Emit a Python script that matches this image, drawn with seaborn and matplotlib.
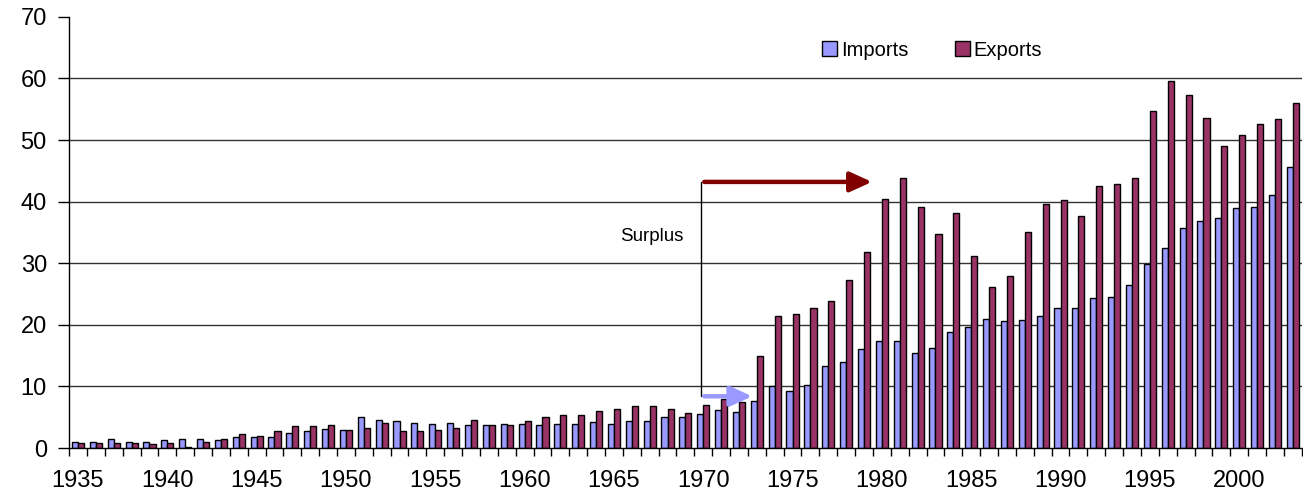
import pandas as pd
import matplotlib
matplotlib.use('Agg')
import matplotlib.pyplot as plt
import seaborn as sns

# Data
years = list(range(1935, 2004))
imports = [1.0, 1.0, 1.5, 1.0, 1.0, 1.3, 1.5, 1.5, 1.3, 1.8,
           1.8, 1.8, 2.5, 2.8, 3.1, 3.0, 5.1, 4.6, 4.4, 4.1,
           3.9, 4.1, 3.8, 3.8, 3.9, 3.9, 3.7, 3.9, 3.9, 4.2,
           3.9, 4.4, 4.4, 5.0, 5.0, 5.6, 6.2, 5.9, 7.7, 10.0,
           9.3, 10.3, 13.4, 13.9, 16.0, 17.3, 17.4, 15.5, 16.3, 18.9,
           19.6, 20.9, 20.7, 20.8, 21.4, 22.7, 22.7, 24.3, 24.6, 26.5,
           29.8, 32.4, 35.7, 36.8, 37.3, 38.9, 39.1, 41.0, 45.6]
exports = [0.75, 0.75, 0.75, 0.75, 0.7, 0.75, 0.2, 1.0, 1.5, 2.3,
           2.0, 2.8, 3.6, 3.6, 3.8, 3.0, 3.3, 4.1, 2.8, 2.8,
           3.0, 3.3, 4.6, 3.8, 3.7, 4.4, 5.0, 5.3, 5.3, 6.0,
           6.3, 6.8, 6.8, 6.3, 5.7, 7.0, 7.9, 7.5, 15.0, 21.5,
           21.7, 22.8, 23.8, 27.2, 31.8, 40.4, 43.8, 39.1, 34.7, 38.1,
           31.1, 26.1, 27.9, 35.1, 39.6, 40.3, 37.7, 42.5, 42.8, 43.8,
           54.7, 59.6, 57.3, 53.6, 49.0, 50.8, 52.6, 53.4, 56.0]
series_names = ['Imports', 'Exports']
colors = ['#9999FF', '#993366']

sns.set_theme(style="white")
plt.rcParams['font.family'] = ['Liberation Sans', 'DejaVu Sans']
plt.rcParams['text.color'] = 'black'
plt.rcParams['xtick.color'] = 'black'
plt.rcParams['ytick.color'] = 'black'

df = pd.DataFrame({'Year': [str(y) for y in years], 'Imports': imports, 'Exports': exports})
df_melted = df.melt(id_vars='Year', value_vars=series_names, var_name='Series', value_name='Value')

fig = plt.figure(figsize=(13.03, 4.94), dpi=100)
ax = fig.add_axes([0.053, 0.093, 0.946, 0.873])

sns.barplot(data=df_melted, x='Year', y='Value', hue='Series', hue_order=series_names,
            palette=colors, saturation=1, width=0.68, edgecolor='black', linewidth=1.0, ax=ax)

# Axes styling
ax.set_ylim(0, 70)
ax.set_xlim(-0.5, len(years) - 0.5)
ax.set_yticks(range(0, 71, 10))
ax.set_yticklabels([str(v) for v in range(0, 71, 10)], fontsize=17)
for v in range(10, 70, 10):
    ax.axhline(v, color='#333333', linewidth=1.0, zorder=0)

label_years = list(range(1935, 2004, 5))
ax.set_xticks([years.index(y) for y in label_years])
ax.set_xticklabels([str(y) for y in label_years], fontsize=17)
ax.set_xticks([i - 0.5 for i in range(len(years) + 1)], minor=True)
ax.tick_params(axis='x', which='major', length=0, pad=16)
ax.tick_params(axis='x', which='minor', length=6, width=1, color='black', direction='out', bottom=True)
ax.tick_params(axis='y', length=8, width=1, color='black', direction='out', left=True, pad=8)
ax.set_xlabel('')
ax.set_ylabel('')

for side in ['top', 'right']:
    ax.spines[side].set_visible(False)
for side in ['left', 'bottom']:
    ax.spines[side].set_color('black')
    ax.spines[side].set_linewidth(1.0)

# Surplus annotation
x0 = 34.9
ax.plot([x0, x0], [8.4, 43.2], color='black', linewidth=1.0, zorder=5)
ax.annotate('', xy=(44.6, 43.2), xytext=(x0, 43.2),
            arrowprops=dict(arrowstyle='-|>,head_length=1.1,head_width=0.5', color='#800000', lw=3.2), zorder=6)
ax.annotate('', xy=(37.9, 8.4), xytext=(x0, 8.4),
            arrowprops=dict(arrowstyle='-|>,head_length=1.1,head_width=0.5', color='#9999FF', lw=3.2), zorder=6)
ax.text(32.1, 34.4, 'Surplus', fontsize=13.5, ha='center', va='center')

# Legend
ax.legend(ncol=2, frameon=False, loc='center', bbox_to_anchor=(0.70, 0.923),
          handlelength=0.75, handleheight=0.75, handletextpad=0.2, columnspacing=2.3, fontsize=14.5)

plt.savefig('out.png', dpi=100)
plt.close()
